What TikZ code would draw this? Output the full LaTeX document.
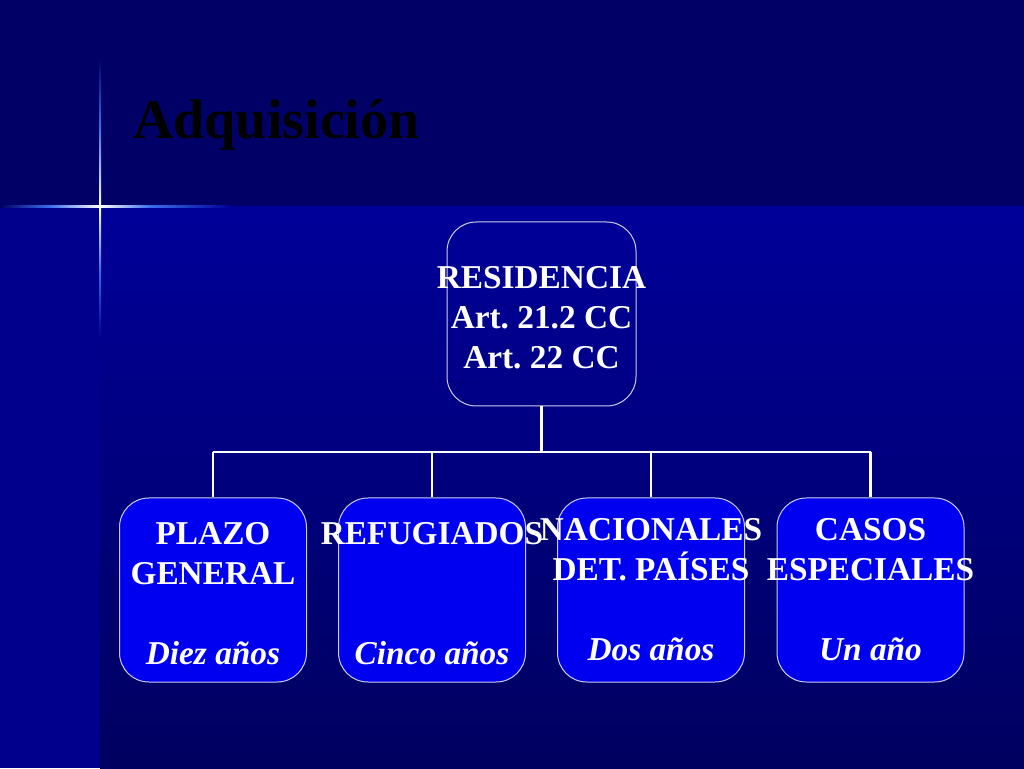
\documentclass[tikz,border=0pt]{standalone}
\usepackage{fontspec}
\setmainfont{Liberation Serif}
\frenchspacing
\definecolor{bgtop}{RGB}{0,0,102}
\definecolor{paneltop}{RGB}{0,0,153}
\definecolor{panelbot}{RGB}{0,0,96}
\definecolor{stripcol}{RGB}{0,0,140}
\definecolor{leafblue}{RGB}{0,0,240}
\definecolor{edgecol}{RGB}{205,205,235}
\definecolor{flarecol}{RGB}{60,110,235}

\begin{document}
\begin{tikzpicture}[x=0.75pt, y=0.75pt,
    rootbox/.style={draw=edgecol, line width=0.75pt, rounded corners=22pt,
      minimum width=141.75pt, minimum height=138pt, inner sep=0pt},
    leafbox/.style={rootbox, fill=leafblue, minimum width=140.25pt},
    boxtext/.style={text=white, align=center, inner sep=0pt,
      font=\bfseries\fontsize{25}{30}\selectfont},
    linkline/.style={draw=white, line width=2pt}]
  \useasboundingbox (0,0) rectangle (1024,768);
  % background
  \fill[bgtop] (0,0) rectangle (1024,768);
  \shade[top color=paneltop, bottom color=panelbot] (100,0) rectangle (1024,561);
  \fill[stripcol] (0,0) rectangle (100,561);
  % flare
  \shade[left color=bgtop, right color=flarecol] (0,560) rectangle (50,562);
  \shade[left color=flarecol, right color=white] (50,560) rectangle (100,562);
  \shade[left color=white, right color=flarecol] (100,560) rectangle (150,562);
  \shade[left color=flarecol, right color=paneltop] (150,560) rectangle (230,562);
  \shade[bottom color=white, top color=flarecol] (99,561) rectangle (101,640);
  \shade[bottom color=flarecol, top color=bgtop] (99,640) rectangle (101,710);
  \shade[top color=white, bottom color=flarecol] (99,561) rectangle (101,500);
  \shade[top color=flarecol, bottom color=stripcol] (99,500) rectangle (101,430);
  \fill[white] (100,561) circle (1.5);
  % title
  \node[anchor=base west, inner sep=0pt, font=\bfseries\fontsize{42}{50}\selectfont] (title) at (133,629) {Adquisición};
  % boxes
  \node[rootbox] (root) at (541.5,454) {};
  \node[leafbox] (plazo) at (213,178) {};
  \node[leafbox] (refug) at (432,178) {};
  \node[leafbox] (nac) at (651,178) {};
  \node[leafbox] (casos) at (870.5,178) {};
  % texts
  \node[boxtext] (rootText) at ([yshift=-2.5pt]root.center) {RESIDENCIA\\Art. 21.2 CC\\Art. 22 CC};
  \node[boxtext] (plazoText) at ([yshift=-3pt]plazo.center) {PLAZO\\GENERAL\\~\\\textit{Diez años}};
  \node[boxtext] (refugText) at ([yshift=-3pt]refug.center) {REFUGIADOS\\~\\~\\\textit{Cinco años}};
  \node[boxtext] (nacText) at ([yshift=0.5pt]nac.center) {NACIONALES\\DET. PAÍSES\\~\\\textit{Dos años}};
  \node[boxtext] (casosText) at ([yshift=0.5pt]casos.center) {CASOS\\ESPECIALES\\~\\\textit{Un año}};
  % connectors
  \coordinate (bar) at (541.5,316);
  \draw[linkline] (root.south) -- (root.south |- bar);
  \draw[linkline] (plazo.north |- bar) -- (casos.north |- bar);
  \foreach \n in {plazo,refug,nac,casos}
    \draw[linkline] (\n.north |- bar) -- (\n.north);
\end{tikzpicture}
\end{document}
